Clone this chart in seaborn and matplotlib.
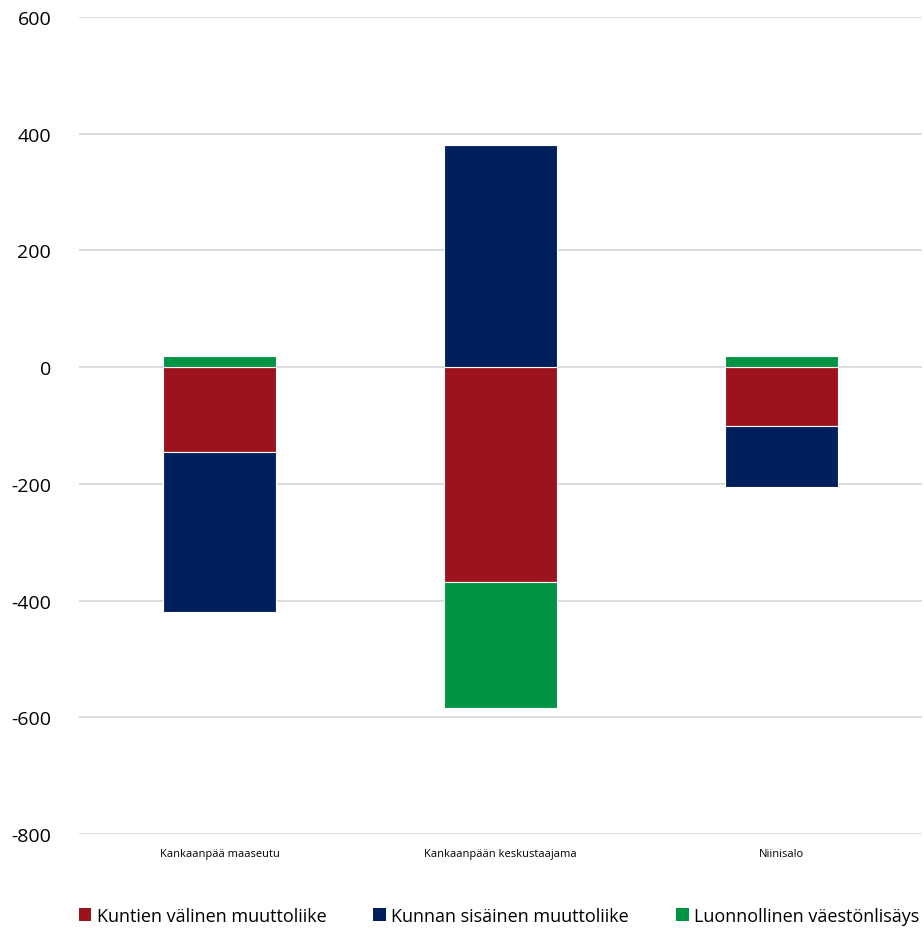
import numpy as np
import pandas as pd
import matplotlib
matplotlib.use("Agg")
import matplotlib.pyplot as plt
import seaborn as sns
from matplotlib.patches import Patch

# Data
areas = ["Kankaanpää maaseutu", "Kankaanpään keskustaajama", "Niinisalo"]
series_names = ["Kuntien välinen muuttoliike", "Kunnan sisäinen muuttoliike", "Luonnollinen väestönlisäys"]
kuntien_valinen = [-146, -369, -100]
kunnan_sisainen = [-273, 380, -105]
luonnollinen = [19, -215, 19]
colors = ["#9C131E", "#00205B", "#009545"]

yticks = [-800, -600, -400, -200, 0, 200, 400, 600]

sns.set_theme(style="white")
plt.rcParams["font.family"] = ["Open Sans", "DejaVu Sans"]

fig = plt.figure(figsize=(9.24, 9.29), dpi=100)
ax = fig.add_axes([79 / 924, 1 - 835 / 929, 843 / 924, (835 - 18) / 929])

# Stack positives and negatives separately, like Excel does
pos_base = np.zeros(len(areas))
neg_base = np.zeros(len(areas))
for name, vals, color in zip(series_names, [kuntien_valinen, kunnan_sisainen, luonnollinen], colors):
    vals = np.array(vals, dtype=float)
    bottom = np.where(vals >= 0, pos_base, neg_base)
    df = pd.DataFrame({"area": areas, "value": vals})
    sns.barplot(data=df, x="area", y="value", color=color, width=0.405,
                bottom=bottom, edgecolor="white", linewidth=0.8,
                saturation=1, ax=ax, zorder=3)
    pos_base = pos_base + np.where(vals >= 0, vals, 0)
    neg_base = neg_base + np.where(vals < 0, vals, 0)

ax.set_ylim(-800, 600)
ax.set_xlim(-0.5, 2.5)
ax.set_yticks(yticks)
ax.set_yticklabels([str(t) for t in yticks], fontsize=14, color="black")
ax.tick_params(axis="y", length=0, pad=20)
ax.tick_params(axis="x", length=0, labelsize=8, pad=10, labelcolor="black")
ax.set_xlabel("")
ax.set_ylabel("")
ax.grid(axis="y", color="#D9D9D9", linewidth=1.3, zorder=0)
ax.set_axisbelow(True)
for s in ax.spines.values():
    s.set_visible(False)

handles = [Patch(facecolor=c, edgecolor="none") for c in colors]
fig.legend(handles, series_names, loc="center", bbox_to_anchor=(0.54, 1 - 917 / 929),
           ncol=3, frameon=False, fontsize=13, handlelength=0.7, handleheight=0.7,
           handletextpad=0.3, columnspacing=2.6, labelcolor="black")

fig.savefig("out.png", dpi=100)
